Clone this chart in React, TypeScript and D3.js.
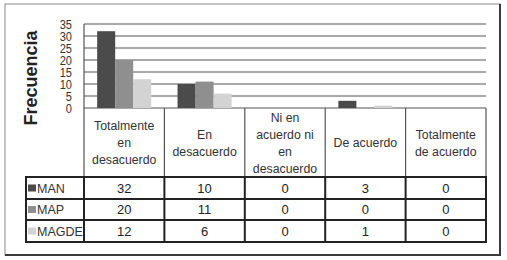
import React from "react";
import * as d3 from "d3";

const categories = [
  ["Totalmente", "en", "desacuerdo"],
  ["En", "desacuerdo"],
  ["Ni en", "acuerdo ni", "en", "desacuerdo"],
  ["De acuerdo"],
  ["Totalmente", "de acuerdo"],
];
const seriesNames = ["MAN", "MAP", "MAGDE"];
const MAN = [32, 10, 0, 3, 0];
const MAP = [20, 11, 0, 0, 0];
const MAGDE = [12, 6, 0, 1, 0];
const yTicks = [0, 5, 10, 15, 20, 25, 30, 35];
const colors = ["#4b4b4b", "#8f8f8f", "#d3d3d3"];

export default function App() {
  const W = 507, H = 260;
  const left = 84, right = 486, top = 24, zero = 108;
  const headerBottom = 177;
  const rowEdges = [177, 199, 220, 242];
  const legendLeft = 26;
  const values = [MAN, MAP, MAGDE];
  const keys = categories.map((_, i) => String(i));

  const x0 = d3.scaleBand().domain(keys).range([left, right]).padding(0);
  const x1 = d3.scaleBand().domain(seriesNames).range([0, x0.bandwidth()]).paddingInner(0).paddingOuter(0.73);
  const y = d3.scaleLinear().domain([0, 35]).range([zero, top]);

  const font = "'Liberation Sans', Arial, sans-serif";

  return (
    <svg width={W} height={H} style={{ position: "absolute", left: 0, top: 0 }} fontFamily={font}>
      <rect x={0} y={0} width={W} height={H} fill="#fff" />
      {/* frame */}
      <rect x={5} y={4} width={495} height={251} fill="none" stroke="#8a8a8a" strokeWidth={1} />
      <line x1={500} y1={4} x2={500} y2={256} stroke="#3a3a3a" strokeWidth={2} />
      <line x1={5} y1={255} x2={501} y2={255} stroke="#3a3a3a" strokeWidth={2} />

      {/* gridlines */}
      {yTicks.map((t) => (
        <line key={t} x1={left} x2={right} y1={y(t)} y2={y(t)} stroke="#8c8c8c" strokeWidth={1.3} />
      ))}
      {/* y tick labels */}
      {yTicks.map((t) => (
        <text key={"l" + t} transform={`translate(72,${y(t) + 4.5}) scale(0.82,1)`} textAnchor="end" fontSize={13.5} fill="#333">
          {t}
        </text>
      ))}
      <text transform={`translate(37,78) rotate(-90)`} textAnchor="middle" fontSize={18} fontWeight="bold" fill="#222">
        Frecuencia
      </text>

      {/* bars */}
      {keys.map((k, ci) =>
        seriesNames.map((s, si) => {
          const v = values[si][ci];
          if (v <= 0) return null;
          return (
            <rect key={k + s} x={x0(k)! + x1(s)!} width={x1.bandwidth()} y={y(v)} height={zero - y(v)} fill={colors[si]} />
          );
        })
      )}

      {/* axis left line */}
      <line x1={left} x2={left} y1={top} y2={headerBottom} stroke="#555" strokeWidth={1.2} />

      {/* header cells */}
      {keys.map((k, ci) => {
        const xl = x0(k)!;
        const cx = xl + x0.bandwidth() / 2;
        const lines = categories[ci];
        const sp = 17;
        const start = 143 - ((lines.length - 1) * sp) / 2;
        return (
          <g key={"h" + k}>
            <line x1={xl + x0.bandwidth()} x2={xl + x0.bandwidth()} y1={zero} y2={headerBottom} stroke="#555" strokeWidth={1.2} />
            {lines.map((ln, li) => (
              <text key={li} x={cx} y={start + li * sp + 4.3} textAnchor="middle" fontSize={12.3} fill="#333">
                {ln}
              </text>
            ))}
          </g>
        );
      })}

      {/* data rows */}
      {seriesNames.map((s, si) => {
        const y0 = rowEdges[si], y1 = rowEdges[si + 1];
        const cy = (y0 + y1) / 2;
        return (
          <g key={"r" + s}>
            <rect x={legendLeft + 2} y={cy - 3.5} width={8} height={7} fill={colors[si]} />
            <text x={legendLeft + 11} y={cy + 4.5} fontSize={12.5} fill="#333">
              {s}
            </text>
            {keys.map((k, ci) => (
              <text key={k} x={x0(k)! + x0.bandwidth() / 2} y={cy + 4.5} textAnchor="middle" fontSize={13} fill="#222">
                {values[si][ci]}
              </text>
            ))}
          </g>
        );
      })}
      {rowEdges.map((ry) => (
        <line key={"rl" + ry} x1={legendLeft} x2={right} y1={ry} y2={ry} stroke="#222" strokeWidth={2} />
      ))}
      {[legendLeft, ...keys.map((k) => x0(k)!), right].map((vx, i) => (
        <line key={"vl" + i} x1={vx} x2={vx} y1={rowEdges[0] - 1} y2={rowEdges[3] + 1} stroke="#222" strokeWidth={2} />
      ))}
    </svg>
  );
}
